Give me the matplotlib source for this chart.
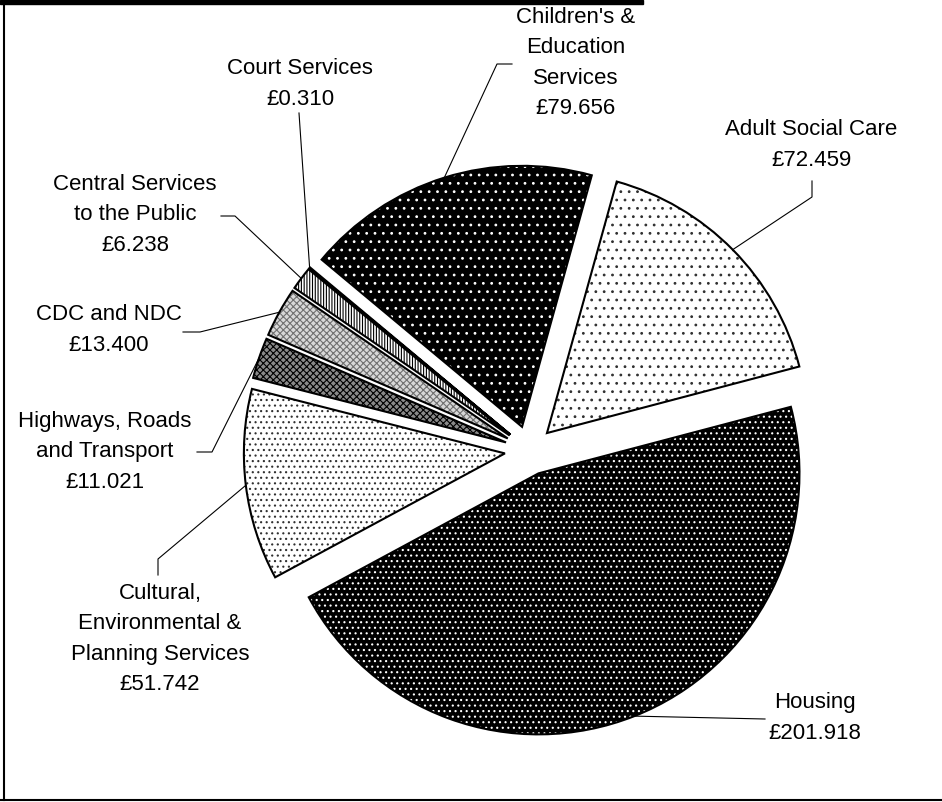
import matplotlib
matplotlib.use('Agg')
import matplotlib.pyplot as plt
from matplotlib.patches import Wedge, Rectangle
import numpy as np

plt.rcParams['font.family'] = ['Liberation Sans', 'DejaVu Sans']
plt.rcParams['hatch.linewidth'] = 0.8

# net spend by service (£m), in the order the slices run clockwise
services = ['Adult Social Care', 'Housing', 'Cultural,\nEnvironmental &\nPlanning Services',
            'Highways, Roads\nand Transport', 'CDC and NDC', 'Central Services\nto the Public',
            'Court Services', "Children's &\nEducation\nServices"]
amounts = [72.459, 201.918, 51.742, 11.021, 13.400, 6.238, 0.310, 79.656]

# fill styles per slice
faces = ['white', 'black', 'white', '#8a8a8a', '#d8d8d8', 'white', 'white', 'black']
hatch_cols = ['#303030', 'white', '#303030', 'black', '#707070', 'black', 'black', 'white']
hatches = ['..', '...', '...', 'xxxxx', 'xxxxx', '||||||', '||||||', '..']

# label block centres and leader elbows, pixel coords (y down)
label_pos = [(811, 145), (815, 718), (160, 639), (105, 452), (109, 330),
             (135, 215), (300, 84), (576, 63)]
elbows = [[(812, 181), (812, 197)], [(765, 719)], [(158, 575), (158, 559)],
          [(197, 452), (212, 452)], [(183, 332), (200, 332)], [(221, 216), (235, 216)],
          [(299, 113)], [(512, 64), (497, 64)]]

W, H = 942, 802
fig = plt.figure(figsize=(W / 100, H / 100), dpi=100)
ax = fig.add_axes([0, 0, 1, 1])

wedges, _ = ax.pie(amounts, explode=[24.7] * len(amounts), startangle=-74.5,
                   counterclock=True, center=(529.4, 450.4), radius=261,
                   wedgeprops=dict(linewidth=0))
ax.set_xlim(0, W)
ax.set_ylim(H, 0)
ax.axis('off')

for w, fc, hc, h in zip(wedges, faces, hatch_cols, hatches):
    w.set_facecolor(fc)
    w.set_edgecolor(hc)
    w.set_hatch(h)
    w.set_linewidth(0)
    # black outline on top, so the hatch keeps its own colour
    ax.add_patch(Wedge(w.center, w.r, w.theta1, w.theta2, fill=False,
                       edgecolor='black', linewidth=1.5))

for w, name, val, (tx, ty), pts in zip(wedges, services, amounts, label_pos, elbows):
    ax.text(tx, ty, name + '\n£%.3f' % val, ha='center', va='center',
            fontsize=16, linespacing=1.6, multialignment='center')
    mid = np.deg2rad((w.theta1 + w.theta2) / 2)
    end = (w.center[0] + w.r * np.cos(mid), w.center[1] + w.r * np.sin(mid))
    xs = [p[0] for p in pts] + [end[0]]
    ys = [p[1] for p in pts] + [end[1]]
    ax.plot(xs, ys, color='black', lw=0.8)

# chart frame: heavy rule along the top, thin left and bottom edges
ax.add_patch(Rectangle((0, 0), 643, 4, color='black', clip_on=False))
ax.plot([3.5, 3.5], [0, 800], color='black', lw=1.5, clip_on=False)
ax.plot([0, W], [800, 800], color='black', lw=1.5, clip_on=False)

fig.savefig('out.png', dpi=100)
